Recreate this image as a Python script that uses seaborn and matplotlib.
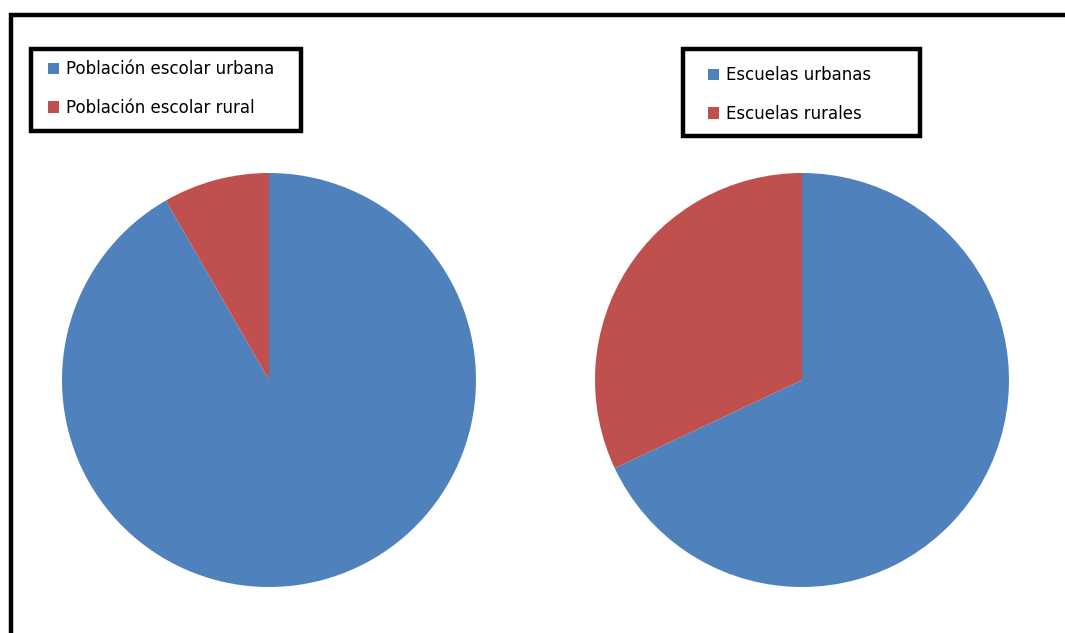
import matplotlib
matplotlib.use("Agg")
import matplotlib.pyplot as plt
from matplotlib.patches import Rectangle
import seaborn as sns

sns.set_theme(style="white")
plt.rcParams['font.family'] = ['DejaVu Sans']

# Data
labels_left = ["Población escolar urbana", "Población escolar rural"]
values_left = [91.7, 8.3]
labels_right = ["Escuelas urbanas", "Escuelas rurales"]
values_right = [68.0, 32.0]
colors = ["#4F81BD", "#C0504D"]

W, H = 1065, 633
fig = plt.figure(figsize=(W / 100, H / 100), dpi=100)
fig.patch.set_facecolor("white")

def px_axes(cx, cy, r):
    return fig.add_axes([(cx - r) / W, (H - cy - r) / H, 2 * r / W, 2 * r / H])

axL = px_axes(269, 380, 207)
axR = px_axes(802, 380, 207)

wedgesL, _ = axL.pie(values_left, colors=colors, startangle=90, counterclock=False,
                     radius=1, wedgeprops=dict(linewidth=0))
wedgesR, _ = axR.pie(values_right, colors=colors, startangle=90, counterclock=False,
                     radius=1, wedgeprops=dict(linewidth=0))
for ax in (axL, axR):
    ax.set_xlim(-1, 1)
    ax.set_ylim(-1, 1)
    ax.set_aspect("equal")
    ax.axis("off")

# Outer frame (extends off right/bottom)
fig.add_artist(Rectangle((10.5 / W, -0.05), 1.1, 1 - 14.5 / H + 0.05,
                         transform=fig.transFigure, fill=False,
                         edgecolor="black", linewidth=3.2, zorder=5))

def px_box(x0, y0, x1, y1):
    fig.add_artist(Rectangle((x0 / W, 1 - y1 / H), (x1 - x0) / W, (y1 - y0) / H,
                             transform=fig.transFigure, fill=False,
                             edgecolor="black", linewidth=3.2, zorder=5))

px_box(31, 49, 301, 131)
px_box(683, 49, 920, 136)

fs = 12
leg_kw = dict(frameon=False, loc="upper left", fontsize=fs, labelspacing=1.25,
              handlelength=0.66, handleheight=0.66, handletextpad=0.4,
              borderpad=0, borderaxespad=0, labelcolor="black")
fig.legend(wedgesL, labels_left, bbox_to_anchor=(48 / W, 1 - 60 / H), **leg_kw)
fig.legend(wedgesR, labels_right, bbox_to_anchor=(708 / W, 1 - 66 / H), **leg_kw)

fig.savefig("out.png", dpi=100, facecolor="white")
